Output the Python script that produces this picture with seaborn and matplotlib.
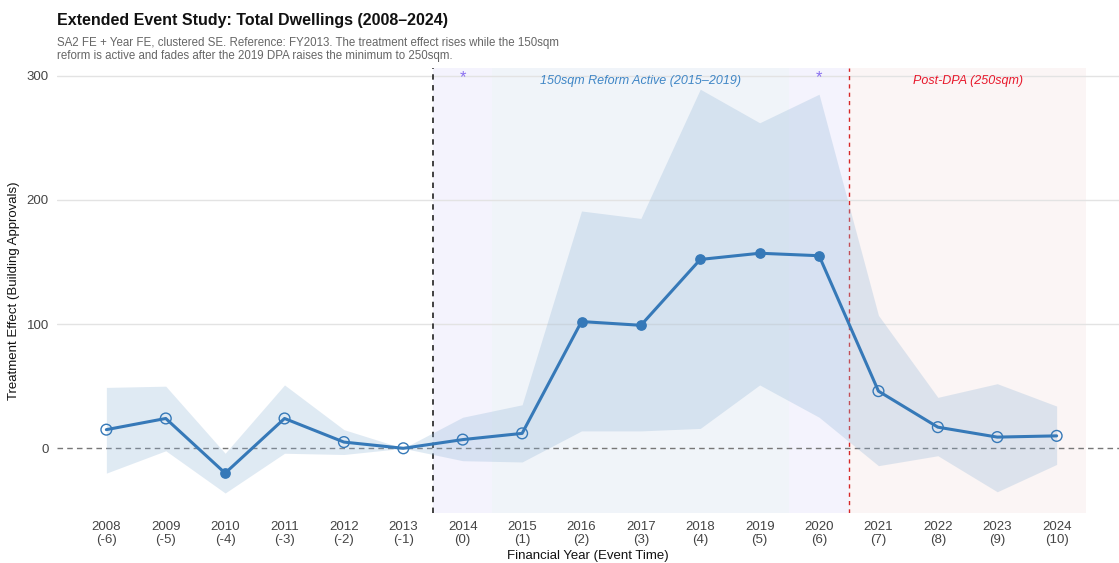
import numpy as np
import pandas as pd
import matplotlib
matplotlib.use("Agg")
import matplotlib.pyplot as plt
import seaborn as sns

# Event-study estimates (total dwellings)
years = [2008, 2009, 2010, 2011, 2012, 2013, 2014, 2015, 2016,
         2017, 2018, 2019, 2020, 2021, 2022, 2023, 2024]
event_time = [-6, -5, -4, -3, -2, -1, 0, 1, 2, 3, 4, 5, 6, 7, 8, 9, 10]
coef = [15, 24, -20, 24, 5, 0, 7, 12, 102, 99, 152, 157, 155, 46, 17, 9, 10]
ci_low = [-20, -2, -36, -4, -5, 0, -10, -11, 14, 14, 16, 51, 25, -14, -6, -35, -13]
ci_high = [49, 50, -4, 51, 15, 0, 25, 35, 191, 185, 289, 262, 285, 107, 41, 52, 34]
significant = [False, False, True, False, False, False, False, False, True,
               True, True, True, True, False, False, False, False]
star_years = [2014, 2020]

df = pd.DataFrame({"year": years, "coef": coef, "lo": ci_low, "hi": ci_high,
                   "sig": significant})

sns.set_theme(style="white")
plt.rcParams["font.family"] = ["Liberation Sans", "DejaVu Sans"]

fig = plt.figure(figsize=(11.19, 5.63), dpi=100)
ax = fig.add_axes([0.051, 0.089, 0.949, 0.79])

line_col = "#3679b8"

# Policy period shading
ax.axvspan(2013.5, 2014.5, color="#7b68ee", alpha=0.08, lw=0, zorder=0)
ax.axvspan(2014.5, 2019.5, color="#e6edf5", alpha=0.6, lw=0, zorder=0)
ax.axvspan(2019.5, 2020.5, color="#7b68ee", alpha=0.08, lw=0, zorder=0)
ax.axvspan(2020.5, 2024.5, color="#f5e3e3", alpha=0.35, lw=0, zorder=0)

# Grid and reference lines
for v in [100, 200, 300]:
    ax.axhline(v, color="#e3e3e3", lw=1, zorder=0.5)
ax.axhline(0, color="#777777", lw=1, ls=(0, (4, 3)), zorder=1)
ax.axvline(2013.5, color="#333333", lw=1.3, ls=(0, (3, 3)), zorder=1)
ax.axvline(2020.5, color="#d62728", lw=1, ls=(0, (3, 3)), zorder=1)

# Confidence band
ax.fill_between(df["year"], df["lo"], df["hi"], color="#8fb4d6", alpha=0.28,
                lw=0, zorder=2)

# Point estimates
sns.lineplot(data=df, x="year", y="coef", color=line_col, lw=2.2, ax=ax,
             zorder=3)
sig = df[df["sig"]]
nonsig = df[~df["sig"]]
sns.scatterplot(data=sig, x="year", y="coef", color=line_col, s=45,
                edgecolor=line_col, linewidth=1, ax=ax, zorder=4)
ax.scatter(nonsig["year"], nonsig["coef"], s=60, facecolors="none",
           edgecolors=line_col, linewidths=1, zorder=4)

# Annotations
ax.text(2017, 296, "150sqm Reform Active (2015\u20132019)", color="#3f86c6",
        style="italic", fontsize=9, ha="center", va="center")
ax.text(2022.5, 296, "Post-DPA (250sqm)", color="#e8192c", style="italic",
        fontsize=9, ha="center", va="center")
for sy in star_years:
    ax.text(sy, 298, "*", color="#8a70f0", fontsize=12, ha="center",
            va="center")

ax.set_xlim(2007.17, 2025.05)
ax.set_ylim(-52, 306)
ax.set_xticks(years)
ax.set_xticklabels([f"{y}\n({e})" for y, e in zip(years, event_time)],
                   fontsize=9.5, color="#444444", linespacing=1.1)
ax.set_yticks([0, 100, 200, 300])
ax.set_yticklabels(["0", "100", "200", "300"], fontsize=9.5, color="#444444")
ax.tick_params(axis="x", length=0, pad=6)
ax.tick_params(axis="y", length=0, pad=6)
for s in ax.spines.values():
    s.set_visible(False)
ax.set_xlabel("Financial Year (Event Time)", fontsize=9.5, color="#111111",
              labelpad=3)
ax.set_ylabel("Treatment Effect (Building Approvals)", fontsize=9.5,
              color="#111111", labelpad=5)

fig.text(0.051, 0.963, "Extended Event Study: Total Dwellings (2008\u20132024)",
         fontsize=11.5, fontweight="bold", color="#111111", va="center")
fig.text(0.051, 0.912,
         "SA2 FE + Year FE, clustered SE. Reference: FY2013. The treatment effect rises while the 150sqm\n"
         "reform is active and fades after the 2019 DPA raises the minimum to 250sqm.",
         fontsize=8.3, color="#666666", va="center", linespacing=1.15)

fig.savefig("out.png", dpi=100)
